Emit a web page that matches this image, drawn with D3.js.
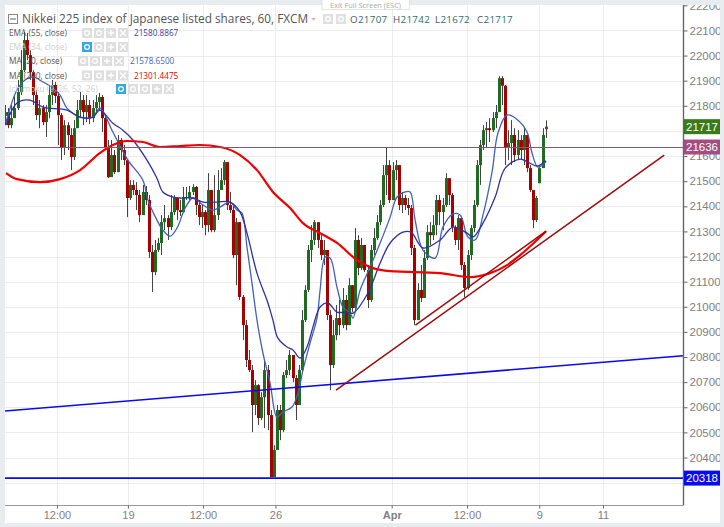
<!DOCTYPE html>
<html><head><meta charset="utf-8">
<script src="https://cdn.jsdelivr.net/npm/d3@7/dist/d3.min.js"></script>
<style>html,body{margin:0;padding:0;background:#fff;overflow:hidden}svg{display:block}text{font-family:"Open Sans",sans-serif}</style>
</head><body><svg id="c" width="724" height="527"></svg>
<script>
const closes=[21775,21723,21751,21791,21855,21942,22062,22002,21934,21843,21763,21791,21735,21775,21843,21883,21839,21763,21636,21723,21684,21596,21711,21783,21823,21775,21803,21751,21791,21815,21835,21751,21636,21516,21604,21536,21664,21624,21584,21433,21485,21465,21445,21365,21457,21425,21218,21138,21226,21254,21337,21353,21317,21377,21433,21385,21377,21437,21433,21457,21477,21405,21357,21377,21325,21465,21305,21365,21465,21504,21576,21405,21385,21206,21337,21039,20927,20788,20748,20609,20688,20557,20640,20748,20569,20322,20430,20589,20509,20728,20748,20808,20716,20609,20748,20947,21067,21226,21266,21337,21266,21206,21226,20967,20768,20887,20955,20927,21027,20927,21086,20995,21266,21154,21246,21146,21027,21226,21274,21337,21405,21524,21564,21425,21544,21564,21405,21433,21405,21393,21234,20947,21067,21035,21194,21297,21285,21325,21425,21377,21405,21512,21445,21317,21266,21353,21166,21075,21206,21313,21405,21564,21644,21703,21711,21703,21751,21775,21910,21880,21636,21652,21684,21604,21664,21624,21684,21552,21465,21345,21433,21552,21684,21717];
const highs=[21803,21791,21803,21843,21903,22022,22094,22090,22022,21942,21863,21823,21803,21803,21883,21903,21895,21855,21771,21743,21735,21711,21743,21823,21855,21843,21843,21823,21823,21843,21851,21843,21763,21664,21664,21624,21684,21672,21644,21584,21504,21504,21496,21465,21485,21481,21445,21246,21266,21274,21365,21405,21365,21445,21445,21433,21425,21477,21477,21481,21488,21481,21425,21405,21385,21532,21445,21524,21544,21552,21584,21564,21457,21405,21353,21337,21047,20947,20828,20768,20708,20692,20660,20788,20768,20589,20449,20609,20609,20740,20788,20828,20808,20728,20768,20987,21086,21246,21325,21345,21337,21285,21266,21226,20987,20947,21007,21027,21075,21047,21114,21086,21313,21285,21274,21246,21166,21246,21313,21365,21425,21564,21632,21584,21576,21584,21564,21457,21445,21433,21405,21246,21094,21166,21226,21325,21337,21365,21445,21445,21433,21532,21512,21453,21325,21365,21353,21178,21226,21325,21425,21584,21664,21723,21735,21751,21775,21803,21918,21918,21883,21703,21743,21711,21703,21684,21711,21684,21564,21445,21441,21564,21711,21742];
const lows=[21723,21711,21711,21775,21783,21843,21934,21982,21903,21803,21743,21711,21723,21676,21751,21803,21811,21644,21584,21604,21624,21544,21584,21723,21751,21723,21735,21727,21735,21775,21783,21696,21624,21512,21584,21528,21536,21584,21564,21357,21425,21445,21385,21337,21385,21405,21194,21059,21126,21218,21206,21305,21266,21305,21365,21345,21361,21405,21425,21425,21445,21365,21325,21313,21285,21297,21297,21297,21345,21465,21485,21385,21373,21194,21086,21027,20867,20760,20740,20501,20569,20529,20549,20517,20509,20322,20342,20469,20469,20501,20716,20728,20700,20549,20629,20740,20939,21059,21178,21246,21234,21186,21166,20947,20668,20756,20867,20887,20915,20907,20927,20979,20987,21126,21146,21138,20995,21019,21206,21266,21325,21397,21445,21413,21425,21504,21385,21373,21385,21365,21206,20927,20947,21019,21047,21186,21246,21266,21285,21325,21305,21397,21405,21297,21246,21226,21146,21039,21067,21186,21297,21397,21485,21624,21632,21656,21696,21711,21803,21803,21564,21584,21564,21576,21584,21584,21564,21536,21457,21313,21337,21492,21564,21672];
const firstOpen=21760, weekendBar=171, weekendOpen=21492, lastOpen=21707;
const opens=closes.map((c,i)=>i===0?firstOpen:i===weekendBar?weekendOpen:i===closes.length-1?lastOpen:closes[i-1]);

const ma20Bars=[0,3.5,6.1,8.6,11.8,15,17.3,19.5,23.7,27.8,30,33.9,35.5,39,43.8,45.4,48.3,50.2,52.5,54.7,57.3,59.8,63,66.2,68.5,71.7,73.9,75.5,77.1,78.7,80.3,82.2,84.5,86.7,88.6,91.5,93.4,95,97.3,99.5,100.5,102.1,103.7,105.9,107.8,110.1,111,113.3,116.5,119.7,122.9,125.1,127.7,129.3,130.9,133.4,137.3,139.8,143,145.3,147.8,150.1,152.6,155.5,157.4,160.3,163.8,166.7,168.3,170.2,172.8];
const ma20Vals=[21735,21863,21903,21915,21895,21871,21843,21791,21755,21755,21791,21703,21664,21584,21504,21425,21345,21305,21281,21313,21393,21433,21405,21385,21397,21417,21385,21373,21238,21094,20947,20816,20696,20561,20581,20601,20656,20748,20856,20955,21067,21198,21194,21078,20999,20975,20955,21067,21158,21254,21357,21437,21457,21457,21345,21226,21194,21317,21369,21365,21278,21266,21365,21536,21692,21763,21743,21696,21612,21556,21579];
const ema55Bars=[0,3.5,7.7,11.8,19.5,23.7,27.8,30,34.2,37.4,40.6,45.1,48.3,50.2,53.4,55.7,59.8,63,67.5,71.7,74.9,77.1,80.3,83.8,85.4,87,89.9,91.8,94.1,96.3,98.2,100.5,103,105.9,109.1,111,115.8,119.7,122.9,127,129.6,133.4,138.9,143,147.5,149.4,152.6,156.5,159.7,164.5,167,169.9,172.8];
const ema55Vals=[21723,21811,21823,21795,21783,21755,21755,21783,21731,21703,21664,21584,21512,21457,21437,21433,21433,21417,21417,21417,21377,21293,21134,21015,20947,20875,20840,20828,20796,20840,20919,20999,21015,20979,20979,20975,21055,21174,21254,21297,21297,21234,21266,21317,21293,21278,21333,21437,21552,21588,21576,21560,21581];
const ma200Bars=[0,3.5,10.9,17.3,23.7,30,34.2,38.7,43.8,49.3,55.7,62,68.5,74.9,80.3,85.4,90.9,95,100.5,105.9,112.3,117.4,122.9,138.9,148.5,154.9,160.3,164.5,172.8];
const ma200Vals=[21532,21508,21496,21508,21544,21612,21644,21660,21656,21636,21640,21644,21636,21604,21544,21457,21393,21333,21293,21254,21186,21154,21142,21134,21118,21134,21166,21206,21301];

const supportBars=[-0.3,216.6], supportVals=[20585,20805];
const trendLongBars=[105.6,210.6], trendLongVals=[20668,21604];
const trendShortBars=[131,172.8], trendShortVals=[20927,21301];
const lowLevel=20318, lastTag=21717, levelTag=21636;

const priceTicks=[20400,20500,20600,20700,20800,20900,21000,21100,21200,21300,21400,21500,21600,21800,21900,22000,22100,22200];
const gridPrices=[20300,20400,20500,20600,20700,20800,20900,21000,21100,21200,21300,21400,21500,21600,21700,21800,21900,22000,22100];
const timeTickBars=[16.3,39,63,86.2,123.4,147.5,170.6,191];
const timeTickLabels=["12:00","19","12:00","26","Apr","12:00","9","11"];
const titleText="Nikkei 225 index of Japanese listed shares, 60, FXCM";
const ohlcKeys=["O","H","L","C"], ohlcVals=["21707","21742","21672","21717"];
const legendNames=["EMA (55, close)","EMA (34, close)","MA (20, close)","MA (200, close)","Ichimoku (9, 26, 52, 26)"];
const legendVals=["21580.8867","","21578.6500","21301.4475",""];

const svg=d3.select("#c");
const L=5,R=683,T=5,B=505.5;
const x=d3.scaleLinear().domain([-0.32,216.6]).range([L,R]);
const y=d3.scaleLinear().domain([20400,21900]).range([457.5,80.7]);

svg.append("rect").attr("width",724).attr("height",527).attr("fill","#e8ecef");
svg.append("rect").attr("x",L).attr("y",T).attr("width",715).attr("height",518).attr("fill","#fff");
const defs=svg.append("defs");
defs.append("clipPath").attr("id","plot").append("rect").attr("x",L).attr("y",T).attr("width",R-L).attr("height",B-T);
defs.append("clipPath").attr("id","full").append("rect").attr("x",L).attr("y",T).attr("width",715).attr("height",518);

const grid=svg.append("g").attr("clip-path","url(#plot)").attr("stroke","#ececec").attr("stroke-width",1);
grid.selectAll(".h").data(gridPrices).join("line").attr("x1",L).attr("x2",R).attr("y1",d=>Math.round(y(d))+.5).attr("y2",d=>Math.round(y(d))+.5);
grid.selectAll(".v").data(timeTickBars).join("line").attr("y1",T).attr("y2",B).attr("x1",d=>Math.round(x(d))+.5).attr("x2",d=>Math.round(x(d))+.5);

const plot=svg.append("g").attr("clip-path","url(#plot)");
const upC="#1f6b22",dnC="#a80000",wick="#444";
const cg=plot.append("g");
cg.selectAll("line").data(closes).join("line")
 .attr("x1",(d,i)=>Math.round(x(i))-.5).attr("x2",(d,i)=>Math.round(x(i))-.5)
 .attr("y1",(d,i)=>y(highs[i])).attr("y2",(d,i)=>y(lows[i]))
 .attr("stroke",wick).attr("stroke-width",1);
cg.selectAll("rect").data(closes).join("rect")
 .attr("x",(d,i)=>Math.round(x(i))-2).attr("width",3)
 .attr("y",(d,i)=>Math.min(y(opens[i]),y(d)))
 .attr("height",(d,i)=>Math.max(1,Math.abs(y(opens[i])-y(d))))
 .attr("fill",(d,i)=>d>=opens[i]?upC:dnC);

const lineOf=(bars,vals,curve)=>d3.line().curve(curve).x((d,i)=>x(bars[i])).y(d=>y(d))(vals);
const straight=(bars,vals)=>d3.line().x((d,i)=>x(bars[i])).y(d=>y(d))(vals);
plot.append("path").attr("d",lineOf(ma20Bars,ma20Vals,d3.curveCatmullRom.alpha(.5))).attr("fill","none").attr("stroke","#3f62b8").attr("stroke-width",1.3);
plot.append("path").attr("d",lineOf(ema55Bars,ema55Vals,d3.curveCatmullRom.alpha(.5))).attr("fill","none").attr("stroke","#2f2fa6").attr("stroke-width",1.3);
plot.append("path").attr("d",lineOf(ma200Bars,ma200Vals,d3.curveMonotoneX)).attr("fill","none").attr("stroke","#f00000").attr("stroke-width",2.2);

plot.append("path").attr("d",straight(supportBars,supportVals)).attr("fill","none").attr("stroke","#0a0af0").attr("stroke-width",1.6);
plot.append("line").attr("x1",L).attr("x2",R).attr("y1",y(lowLevel)).attr("y2",y(lowLevel)).attr("stroke","#0a0af0").attr("stroke-width",1.6);
const levelY=Math.floor(y(levelTag))+.5;
plot.append("line").attr("x1",L).attr("x2",R).attr("y1",levelY).attr("y2",levelY).attr("stroke","#8a5570").attr("stroke-width",1);
plot.append("path").attr("d",straight(trendLongBars,trendLongVals)).attr("fill","none").attr("stroke","#9c0a0a").attr("stroke-width",1.5);
plot.append("path").attr("d",straight(trendShortBars,trendShortVals)).attr("fill","none").attr("stroke","#9c0a0a").attr("stroke-width",1.5);

const axisG=svg.append("g").attr("clip-path","url(#full)");
const yA=axisG.append("g").attr("transform",`translate(${R+.5},0)`)
 .call(d3.axisRight(y).tickValues(priceTicks).tickSize(4).tickPadding(2).tickFormat(d3.format("d")));
yA.select(".domain").attr("d",`M0,${T}V${B}`).attr("stroke","#666").attr("stroke-width",1.4);
yA.selectAll(".tick line").attr("stroke","#666");
yA.selectAll("text").attr("fill","#808080").style("font-family","'Liberation Sans',sans-serif").style("font-size","11.5px");

const xA=axisG.append("g").attr("transform",`translate(0,${B})`)
 .call(d3.axisBottom(x).tickValues(timeTickBars).tickSize(3).tickPadding(3).tickFormat((d,i)=>timeTickLabels[i]));
xA.select(".domain").attr("d",`M${L},0H${R}`).attr("stroke","#999").attr("stroke-width",1.2);
xA.selectAll(".tick line").attr("stroke","#666");
xA.selectAll("text").attr("fill","#808080").attr("font-weight",(d,i)=>timeTickLabels[i]==="Apr"?"bold":null).style("font-family","'Liberation Sans',sans-serif").style("font-size","11px");

[[lastTag,"#3a7a1a"],[levelTag,"#a44d80"],[lowLevel,"#0a0af0"]].forEach(([v,col])=>{
 const g=axisG.append("g").attr("transform",`translate(${R+1},${y(v)})`);
 g.append("rect").attr("x",0).attr("y",-7.5).attr("width",36).attr("height",15).attr("fill",col);
 g.append("text").attr("x",18).attr("y",4).attr("text-anchor","middle").attr("fill","#fff").style("font-family","'Liberation Sans',sans-serif").style("font-size","11.5px").text(v);
});

const head=svg.append("g");
head.append("rect").attr("x",8.5).attr("y",14.5).attr("width",9).attr("height",9).attr("fill","none").attr("stroke","#888");
head.append("line").attr("x1",10).attr("x2",16).attr("y1",19).attr("y2",19).attr("stroke","#666");
head.append("text").attr("x",22).attr("y",23).attr("fill","#555").style("font-size","11.8px").text(titleText);
head.append("path").attr("d","M311 18h5l-2.5 2.5z").attr("fill","#bbb");
[323,336].forEach((bx,i)=>{
 head.append("rect").attr("x",bx).attr("y",14).attr("width",10).attr("height",10).attr("fill","#e0e0e0");
 head.append("circle").attr("cx",bx+5).attr("cy",19).attr("r",2.4).attr("fill","none").attr("stroke","#fff").attr("stroke-width",1.2);
});
const ohlcX=[350,393,435,477];
ohlcKeys.forEach((k,i)=>{
 const t=head.append("text").attr("x",ohlcX[i]).attr("y",23).style("font-size","9.8px").style("letter-spacing","0.3px").attr("fill","#555");
 t.append("tspan").text(k);
 t.append("tspan").attr("fill","#2c6e6e").text(ohlcVals[i]);
});

const rowY=[33,47,61,75.5,89], btnX=[82,82,78,82,116], faded=[0,1,0,0,1], valX=[134,0,130,134,0], valCol=["#3b3ba0","","#3f62b8","#f00000",""];
legendNames.forEach((n,r)=>{
 const col=faded[r]?"#cfcfcf":"#555";
 head.append("text").attr("x",9).attr("y",rowY[r]+3).attr("fill",col).style("font-size","8.3px").text(n);
 const bx=btnX[r];
 const count=r===4?5:4;
 for(let b=0;b<count;b++){
  const blue=(r===1||r===4)&&b===0;
  const cx=bx+b*12+5, cy=rowY[r];
  head.append("rect").attr("x",cx-5).attr("y",cy-5).attr("width",10).attr("height",10).attr("fill",blue?"#35a7e0":"#dedede");
  const icon=b===0?"eye":b===1?"gear":b===count-2?"plus":b===count-1?"x":"gear";
  if(icon==="eye"||icon==="gear") head.append("circle").attr("cx",cx).attr("cy",cy).attr("r",2.4).attr("fill","none").attr("stroke","#fff").attr("stroke-width",1.2);
  if(icon==="plus") head.append("path").attr("d",`M${cx-3} ${cy}h6M${cx} ${cy-3}v6`).attr("stroke","#fff").attr("stroke-width",1.3);
  if(icon==="x") head.append("path").attr("d",`M${cx-3} ${cy-3}l6 6M${cx+3} ${cy-3}l-6 6`).attr("stroke","#fff").attr("stroke-width",1.3);
 }
 if(legendVals[r]) head.append("text").attr("x",valX[r]).attr("y",rowY[r]+3).attr("fill",valCol[r]).style("font-size","8.2px").text(legendVals[r]);
});

head.append("rect").attr("x",322).attr("y",-1).attr("width",87.5).attr("height",10.5).attr("fill","#fff").attr("stroke","#e2e2e2");
head.append("text").attr("x",365.5).attr("y",7.5).attr("text-anchor","middle").attr("fill","#aaa").style("font-size","7.4px").text("Exit Full Screen (ESC)");
</script></body></html>
